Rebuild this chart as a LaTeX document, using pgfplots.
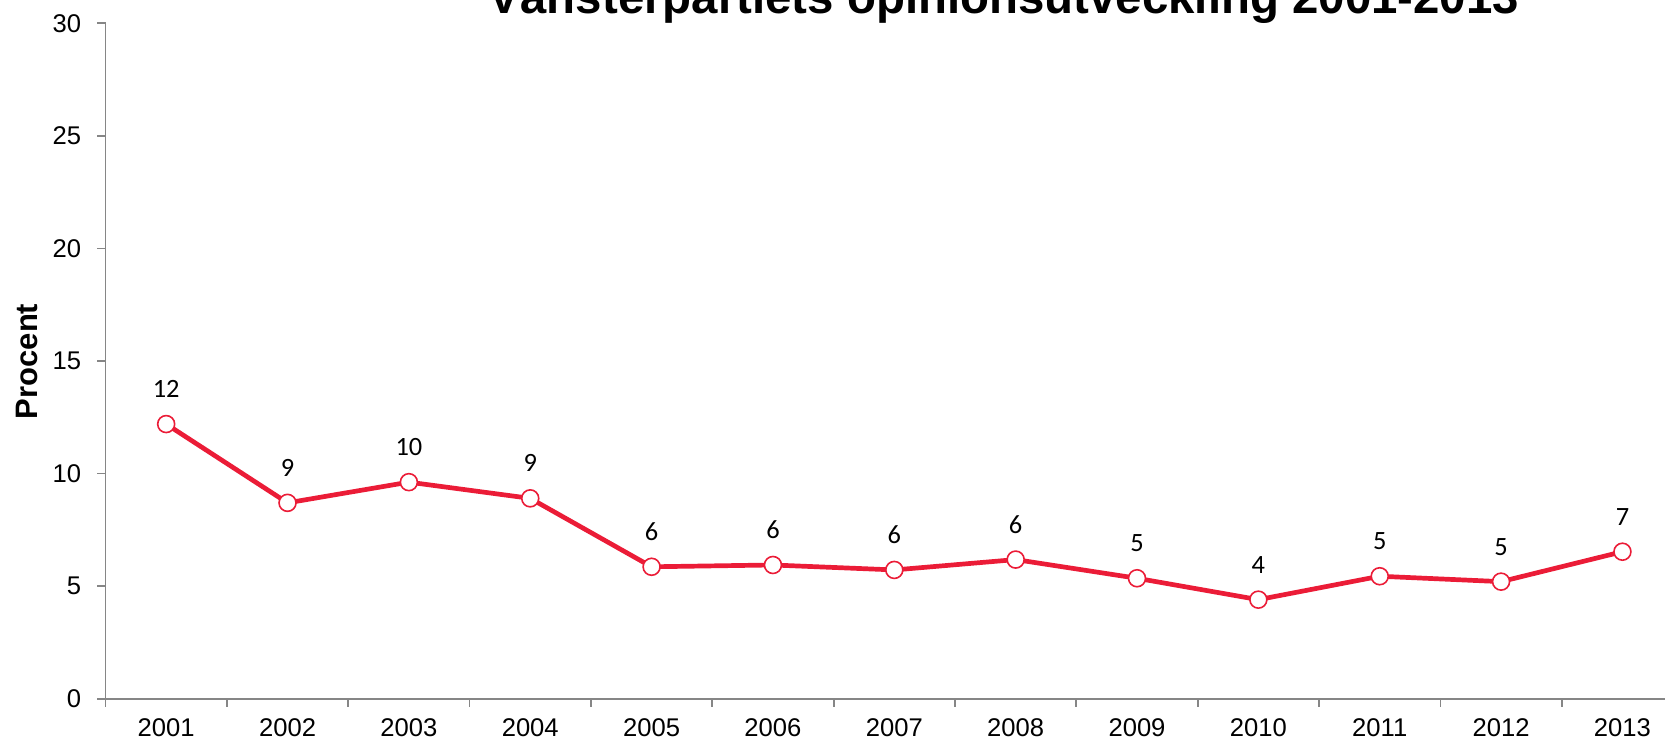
\documentclass[border=0pt]{standalone}
\usepackage{fontspec}
\setmainfont{Liberation Sans}
\newfontfamily\calibri{Carlito}
\usepackage{pgfplots}
\pgfplotsset{compat=1.18}
\definecolor{vred}{RGB}{235,28,55}
\definecolor{axgrey}{RGB}{134,134,134}
\begin{document}
\begin{tikzpicture}
\begin{axis}[
  at={(52.75pt,21.65pt)}, anchor=south west,
  scale only axis,
  width=788.8pt, height=337.65pt,
  xmin=-0.5, xmax=12.5,
  ymin=0, ymax=30,
  axis x line*=bottom, axis y line*=left,
  axis line style={axgrey, line width=0.9pt},
  clip=false,
  xtick={0,...,12},
  xticklabels={2001,2002,2003,2004,2005,2006,2007,2008,2009,2010,2011,2012,2013},
  major x tick style={draw=none},
  minor xtick={-0.5,0.5,...,12.5},
  minor x tick style={axgrey, line width=0.9pt},
  ytick={0,5,...,30},
  y tick style={axgrey, line width=0.9pt},
  tick align=outside,
  major tick length=4pt, minor tick length=4pt,
  /pgf/number format/assume math mode=true,
  tick label style={font=\fontsize{12.8}{14}\selectfont},
  xticklabel style={anchor=north, inner sep=0pt, yshift=-6pt},
  yticklabel style={anchor=east, inner sep=0pt, xshift=-8pt},
  nodes near coords,
  point meta=explicit symbolic,
  every node near coord/.append style={font=\calibri\fontsize{13.2}{15}\selectfont, anchor=center, yshift=17.5pt, black},
]
\addplot[color=vred, line width=2.35pt, mark=*, mark size=4.25pt,
  mark options={fill=white, draw=vred, line width=0.8pt}]
coordinates {
(0,12.2) [12]
(1,8.7) [9]
(2,9.62) [10]
(3,8.9) [9]
(4,5.86) [6]
(5,5.94) [6]
(6,5.72) [6]
(7,6.18) [6]
(8,5.35) [5]
(9,4.4) [4]
(10,5.44) [5]
(11,5.2) [5]
(12,6.53) [7]
};
\end{axis}
\node[rotate=90, font=\bfseries\fontsize{15.5}{18}\selectfont, inner sep=0pt] at (13.25pt,190.3pt) {Procent};
\node[anchor=base, font=\bfseries\fontsize{23.7}{28}\selectfont, inner sep=0pt] at (502pt,364.35pt) {Vänsterpartiets opinionsutveckling 2001-2013};
\pgfresetboundingbox
\useasboundingbox (0,0) rectangle (832.5pt,371pt);
\end{tikzpicture}
\end{document}
